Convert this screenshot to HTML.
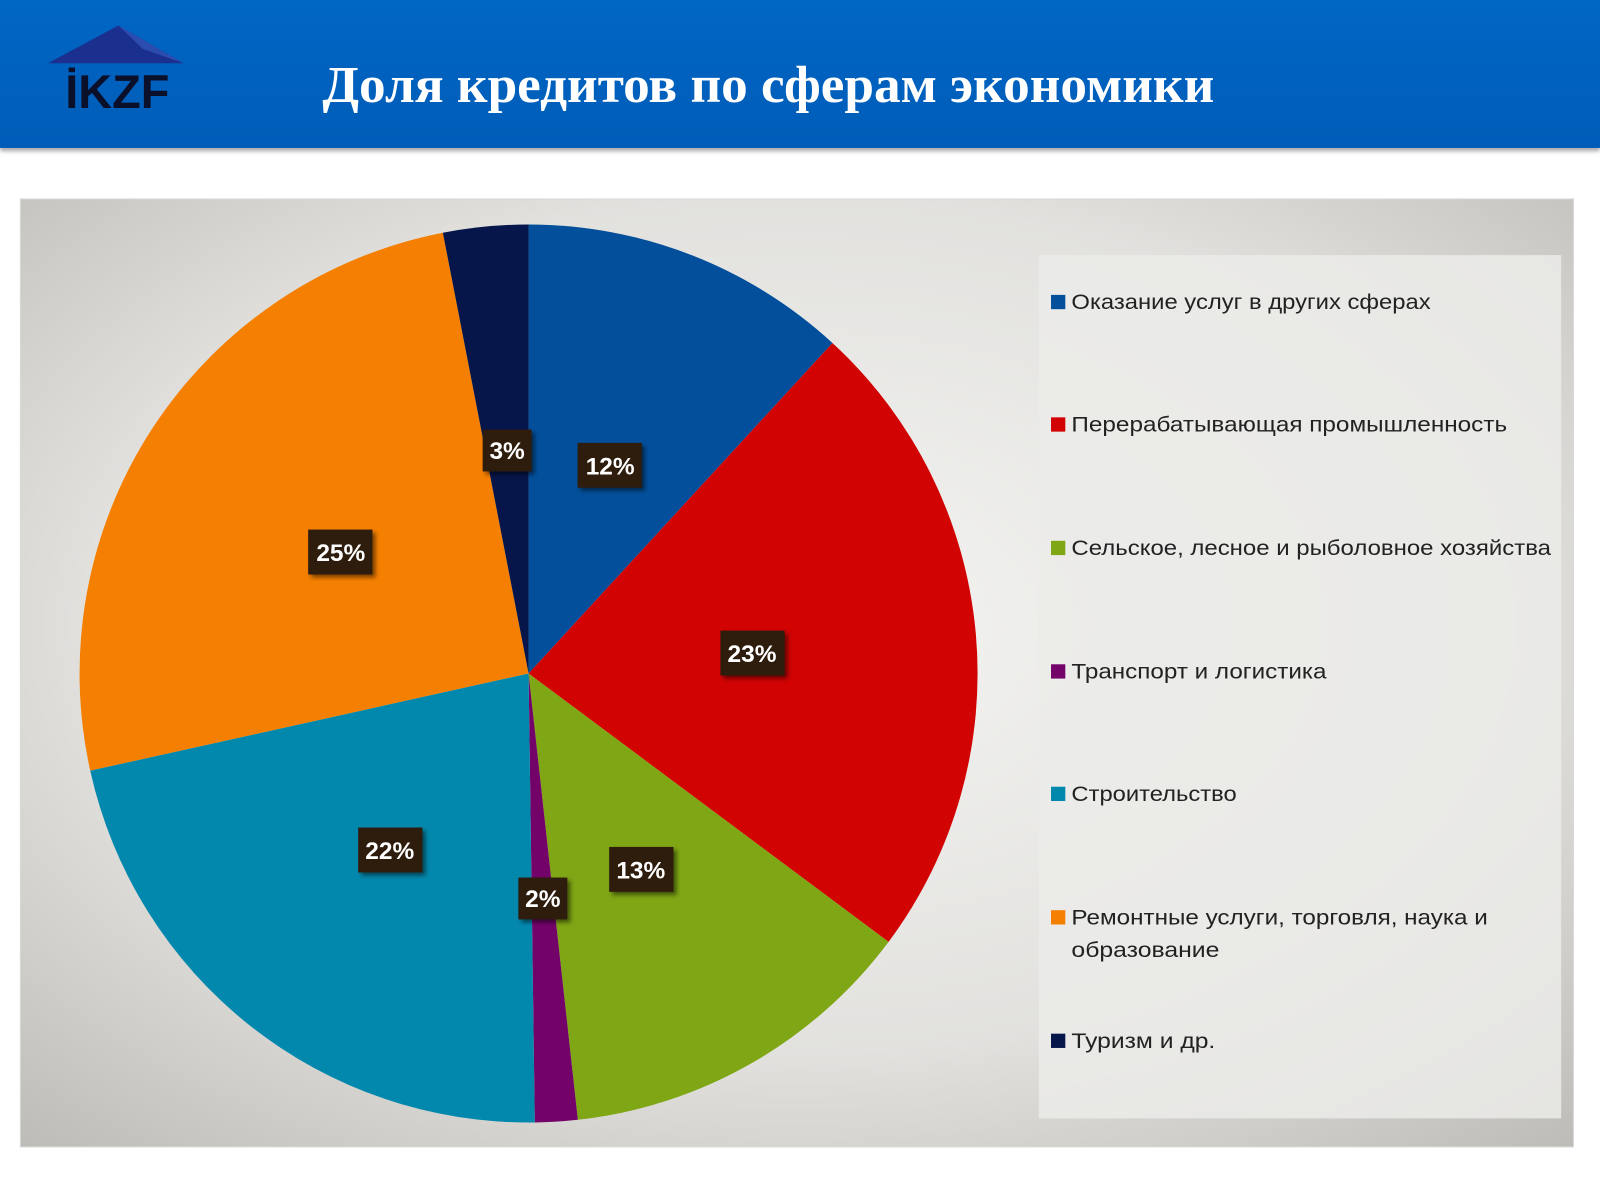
<!DOCTYPE html>
<html><head><meta charset="utf-8"><style>
html,body{margin:0;padding:0;width:1600px;height:1200px;overflow:hidden;background:#fff}
svg{display:block}
</style></head><body>
<svg width="1600" height="1200" viewBox="0 0 1568 1176" preserveAspectRatio="none" xmlns="http://www.w3.org/2000/svg">
<defs>
<linearGradient id="hdr" x1="0" y1="0" x2="0" y2="1">
<stop offset="0" stop-color="#0567c4"/><stop offset="1" stop-color="#045cb8"/>
</linearGradient>
<radialGradient id="bg" cx="0.5" cy="0.45" r="0.75">
<stop offset="0" stop-color="#f4f4f2"/><stop offset="0.6" stop-color="#e2e1de"/><stop offset="1" stop-color="#bdbbb6"/>
</radialGradient>
<filter id="sh" x="-30%" y="-30%" width="160%" height="160%"><feDropShadow dx="3" dy="3" stdDeviation="2" flood-color="#000" flood-opacity="0.5"/></filter>
<filter id="hs"><feDropShadow dx="0" dy="3" stdDeviation="2" flood-color="#000" flood-opacity="0.35"/></filter>
</defs>
<rect width="1568" height="1176" fill="#fff"/>
<rect x="0" y="0" width="1568" height="145" fill="url(#hdr)" filter="url(#hs)"/>
<polygon points="47,62 116,25 180,62" fill="#1a2f8e"/>
<polygon points="116,25 180,62 140,48" fill="#2d4cb0"/>
<text x="64" y="106" font-family="Liberation Sans, sans-serif" font-weight="bold" font-size="46" fill="#0a0f2a" textLength="102" lengthAdjust="spacingAndGlyphs">İKZF</text>
<text x="316" y="100" font-family="Liberation Serif, serif" font-weight="bold" font-size="51" fill="#fff" textLength="874" lengthAdjust="spacingAndGlyphs">Доля кредитов по сферам экономики</text>
<rect x="20" y="195" width="1522" height="929" fill="url(#bg)" stroke="#d8d8d8"/>
<rect x="1018" y="250" width="512" height="846" fill="#ebebe9" opacity="0.85"/>
<g stroke="none">
<path d="M518,660 L518,220 A440,440 0 0,1 815.8,336.1 Z" fill="#034f9b"/>
<path d="M518,660 L815.8,336.1 A440,440 0 0,1 870.8,923 Z" fill="#d10303"/>
<path d="M518,660 L870.8,923 A440,440 0 0,1 566.3,1097.4 Z" fill="#7fa614"/>
<path d="M518,660 L566.3,1097.4 A440,440 0 0,1 524.1,1100 Z" fill="#730369"/>
<path d="M518,660 L524.1,1100 A440,440 0 0,1 88.4,755.2 Z" fill="#0388ad"/>
<path d="M518,660 L88.4,755.2 A440,440 0 0,1 434,228.1 Z" fill="#f57f00"/>
<path d="M518,660 L434,228.1 A440,440 0 0,1 518,220 Z" fill="#07164a"/>
</g>
<g font-family="Liberation Sans, sans-serif" font-weight="bold" font-size="24" fill="#fff" text-anchor="middle">
<rect x="473" y="421" width="48" height="41" fill="#2e1c0e" filter="url(#sh)"/><text x="497" y="450">3%</text>
<rect x="566" y="434" width="63" height="44" fill="#2e1c0e" filter="url(#sh)"/><text x="598" y="465">12%</text>
<rect x="302" y="519" width="63" height="44" fill="#2e1c0e" filter="url(#sh)"/><text x="334" y="550">25%</text>
<rect x="706" y="618" width="63" height="44" fill="#2e1c0e" filter="url(#sh)"/><text x="737" y="649">23%</text>
<rect x="351" y="811" width="63" height="44" fill="#2e1c0e" filter="url(#sh)"/><text x="382" y="842">22%</text>
<rect x="597" y="830" width="63" height="44" fill="#2e1c0e" filter="url(#sh)"/><text x="628" y="861">13%</text>
<rect x="508" y="860" width="48" height="41" fill="#2e1c0e" filter="url(#sh)"/><text x="532" y="889">2%</text>
</g>
<g font-family="Liberation Sans, sans-serif" font-size="21" fill="#222" lengthAdjust="spacingAndGlyphs">
<rect x="1030" y="289" width="14" height="14" fill="#034f9b"/><text x="1050" y="303" textLength="352" lengthAdjust="spacingAndGlyphs">Оказание услуг в других сферах</text>
<rect x="1030" y="409" width="14" height="14" fill="#d10303"/><text x="1050" y="423" textLength="427" lengthAdjust="spacingAndGlyphs">Перерабатывающая промышленность</text>
<rect x="1030" y="530" width="14" height="14" fill="#7fa614"/><text x="1050" y="544" textLength="470" lengthAdjust="spacingAndGlyphs">Сельское, лесное и рыболовное хозяйства</text>
<rect x="1030" y="651" width="14" height="14" fill="#730369"/><text x="1050" y="665" textLength="250" lengthAdjust="spacingAndGlyphs">Транспорт и логистика</text>
<rect x="1030" y="771" width="14" height="14" fill="#0388ad"/><text x="1050" y="785" textLength="162" lengthAdjust="spacingAndGlyphs">Строительство</text>
<rect x="1030" y="892" width="14" height="14" fill="#f57f00"/><text x="1050" y="906" textLength="408" lengthAdjust="spacingAndGlyphs">Ремонтные услуги, торговля, наука и</text><text x="1050" y="938" textLength="145" lengthAdjust="spacingAndGlyphs">образование</text>
<rect x="1030" y="1013" width="14" height="14" fill="#07164a"/><text x="1050" y="1027" textLength="141" lengthAdjust="spacingAndGlyphs">Туризм и др.</text>
</g>
</svg>
</body></html>
